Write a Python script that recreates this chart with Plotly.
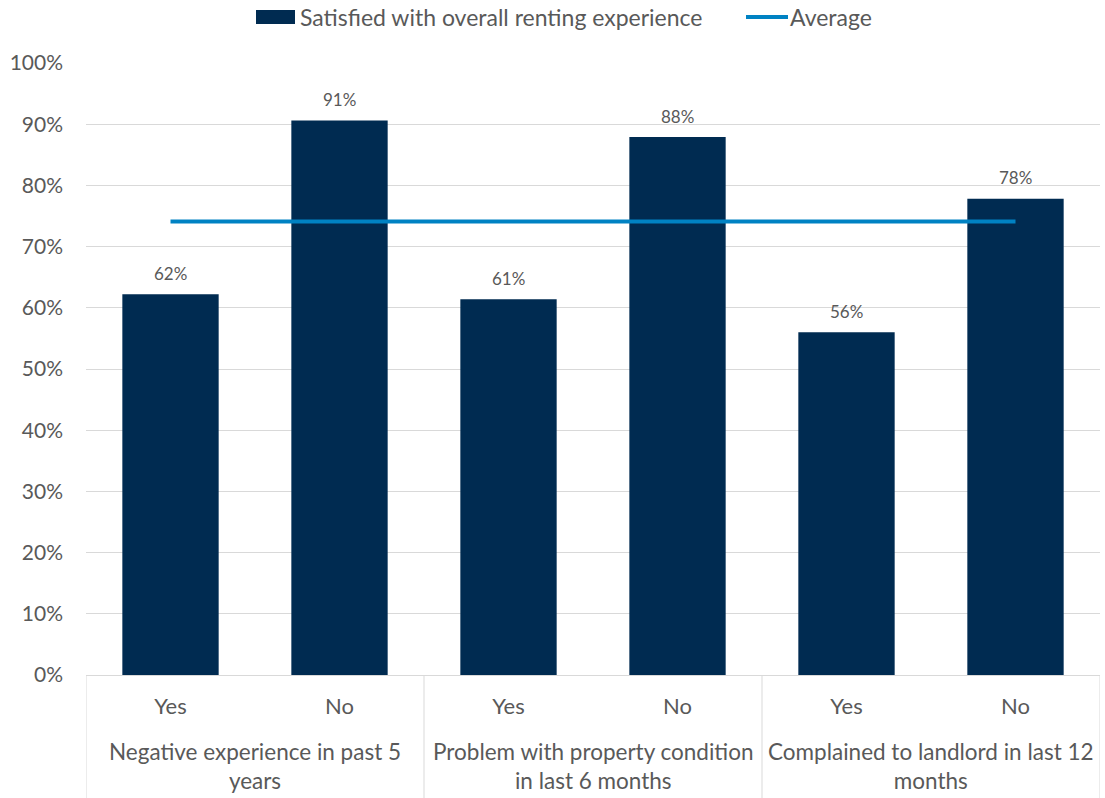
import plotly.graph_objects as go

group_labels = [
    "Negative experience in past 5<br>years",
    "Problem with property condition<br>in last 6 months",
    "Complained to landlord in last 12<br>months",
]
answers = ["Yes", "No", "Yes", "No", "Yes", "No"]
satisfied = [62.2, 90.6, 61.4, 87.9, 56.0, 77.8]
average = [74.1] * 6
y_ticks = [0, 10, 20, 30, 40, 50, 60, 70, 80, 90, 100]

bar_color = "#002B51"
line_color = "#0082C3"
text_color = "#595959"
grid_color = "#d9d9d9"
font_family = "Lato, 'Open Sans', sans-serif"

positions = list(range(len(answers)))

fig = go.Figure()
fig.add_trace(go.Bar(
    x=positions, y=satisfied,
    name="Satisfied with overall renting experience",
    marker=dict(color=bar_color, line=dict(width=0)),
    width=0.57, showlegend=False,
))
fig.add_trace(go.Scatter(
    x=positions, y=average,
    name="Average", mode="lines",
    line=dict(color=line_color, width=4),
    showlegend=False,
))

# value labels above each bar
for p, v in zip(positions, satisfied):
    fig.add_annotation(
        x=p, y=v, text=f"{round(v)}%", showarrow=False,
        yanchor="middle", yshift=21,
        font=dict(size=17, color=text_color, family=font_family),
    )

# group labels under each Yes/No pair, with frame dividers
for i, g in enumerate(group_labels):
    fig.add_annotation(
        x=2 * i + 0.5, y=0, yref="paper", text=g, showarrow=False,
        yanchor="middle", yshift=-91, align="center",
        font=dict(size=22.5, color=text_color, family=font_family),
    )
for i in range(len(group_labels) + 1):
    fig.add_shape(
        type="line", xref="x", yref="paper",
        x0=2 * i - 0.5, x1=2 * i - 0.5, y0=0, y1=-0.205,
        line=dict(color=grid_color, width=1),
    )

# legend drawn as shapes and text above the plot
fig.add_shape(type="rect", xref="paper", yref="paper",
              x0=(256 - 86) / 1014, x1=(295 - 86) / 1014,
              y0=(675 - 24) / 612, y1=(675 - 10) / 612,
              fillcolor=bar_color, line=dict(width=0))
fig.add_annotation(xref="paper", yref="paper",
                   x=(298 - 86) / 1014, y=(675 - 17) / 612,
                   xanchor="left", yanchor="middle", showarrow=False,
                   text="Satisfied with overall renting experience",
                   font=dict(size=23, color=text_color, family=font_family))
fig.add_shape(type="line", xref="paper", yref="paper",
              x0=(746 - 86) / 1014, x1=(788 - 86) / 1014,
              y0=(675 - 17) / 612, y1=(675 - 17) / 612,
              line=dict(color=line_color, width=4))
fig.add_annotation(xref="paper", yref="paper",
                   x=(788 - 86) / 1014, y=(675 - 17) / 612,
                   xanchor="left", yanchor="middle", showarrow=False,
                   text="Average",
                   font=dict(size=23, color=text_color, family=font_family))

fig.update_layout(
    width=1105, height=798,
    margin=dict(l=86, r=5, t=63, b=123, autoexpand=False),
    plot_bgcolor="white", paper_bgcolor="white",
    font=dict(family=font_family, size=22, color=text_color),
    showlegend=False,
    xaxis=dict(
        range=[-0.5, 5.5],
        tickmode="array", tickvals=positions, ticktext=answers,
        showline=True, linecolor=grid_color, linewidth=1,
        showgrid=False, zeroline=False, ticks="",
        tickfont=dict(size=22, color=text_color),
        ticklabelstandoff=12,
    ),
    yaxis=dict(
        range=[0, 100],
        tickmode="array", tickvals=y_ticks,
        ticktext=[f"{t}%" for t in y_ticks],
        showgrid=True, gridcolor=grid_color, gridwidth=1,
        zeroline=False, showline=False,
        tickfont=dict(size=21, color=text_color),
        ticklabelstandoff=22,
    ),
)

fig.write_html("out.html")
